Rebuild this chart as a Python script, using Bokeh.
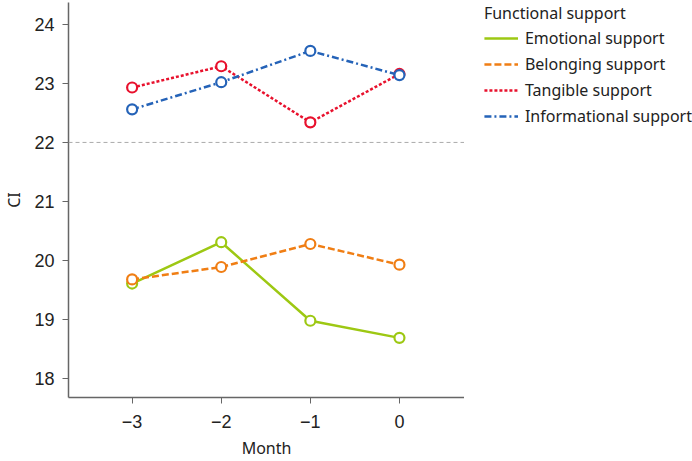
from bokeh.plotting import figure
from bokeh.layouts import row
from bokeh.models import Legend, LegendItem, FixedTicker, Span, Range1d
from bokeh.embed import file_html
from bokeh.resources import INLINE

months = [-3, -2, -1, 0]
emotional = [19.61, 20.31, 18.98, 18.69]
belonging = [19.68, 19.89, 20.28, 19.93]
tangible = [22.93, 23.29, 22.34, 23.16]
informational = [22.56, 23.02, 23.55, 23.14]
series_names = ["Emotional support", "Belonging support", "Tangible support", "Informational support"]
colors = ["#9dc813", "#f07e14", "#e8112d", "#2563b8"]
dashes = ["solid", "7 3", "3 2", "7 3 2 3"]
y_ticks = [18, 19, 20, 21, 22, 23, 24]
x_tick_labels = {-3: "\u22123", -2: "\u22122", -1: "\u22121", 0: "0"}
ref_value = 22

p = figure(width=464, height=461, output_backend="svg", toolbar_location=None,
           x_range=Range1d(-3.714, 0.73), y_range=Range1d(17.68, 24.37),
           min_border_left=68, min_border_right=0, min_border_top=2, min_border_bottom=64)
p.outline_line_color = None
p.xgrid.visible = False
p.ygrid.visible = False
p.background_fill_color = "white"

ref = Span(location=ref_value, dimension="width", line_color="#aaaaaa", line_dash="4 3", line_width=1)
p.add_layout(ref)

# legend panel figure
lg = figure(width=228, height=461, output_backend="svg", toolbar_location=None,
            x_axis_type=None, y_axis_type=None, x_range=Range1d(0, 1), y_range=Range1d(0, 1),
            min_border_left=0, min_border_right=0, min_border_top=0, min_border_bottom=0)
lg.outline_line_color = None
lg.xgrid.visible = False
lg.ygrid.visible = False

items = []
for name, ys, c, d in zip(series_names, [emotional, belonging, tangible, informational], colors, dashes):
    p.line(months, ys, line_color=c, line_width=2.5, line_dash=d)
    p.scatter(months, ys, marker="circle", size=10, fill_color="white", line_color=c, line_width=2.2)
    proxy = lg.line(months, ys, line_color=c, line_width=2.5, line_dash=d)
    items.append(LegendItem(label=name, renderers=[proxy]))

for ax in (p.xaxis[0], p.yaxis[0]):
    ax.axis_line_color = "#666666"
    ax.axis_line_width = 1.5
    ax.major_tick_line_color = "#666666"
    ax.major_tick_out = 6
    ax.major_tick_in = 0
    ax.minor_tick_line_color = None
    ax.major_label_text_font = "Liberation Sans"
    ax.major_label_text_font_size = "18px"
    ax.major_label_text_color = "#222222"
    ax.axis_label_text_font = "Noto Sans"
    ax.axis_label_text_font_size = "16px"
    ax.axis_label_text_font_style = "normal"
    ax.axis_label_text_color = "#222222"

p.xaxis.ticker = FixedTicker(ticks=months)
p.xaxis.major_label_overrides = x_tick_labels
p.yaxis.ticker = FixedTicker(ticks=y_ticks)
p.xaxis.axis_label = "Month"
p.yaxis.axis_label = "CI"
p.yaxis.major_label_standoff = 8
p.xaxis.major_label_standoff = 11
p.yaxis.axis_label_standoff = 6
p.xaxis.axis_label_standoff = 6

legend = Legend(items=items, title="Functional support", location="top_right")
legend.title_text_font = "Noto Sans"
legend.title_text_font_size = "16px"
legend.title_text_font_style = "normal"
legend.title_text_color = "#222222"
legend.title_standoff = 1
legend.label_text_font = "Noto Sans"
legend.label_text_font_size = "16px"
legend.label_text_color = "#222222"
legend.glyph_width = 34
legend.glyph_height = 26
legend.label_height = 26
legend.label_standoff = 7
legend.spacing = 0
legend.padding = 0
legend.margin = 0
legend.border_line_color = None
legend.background_fill_alpha = 0
lg.add_layout(legend, "center")

layout = row(p, lg)
open("out.html", "w").write(file_html(layout, INLINE))
